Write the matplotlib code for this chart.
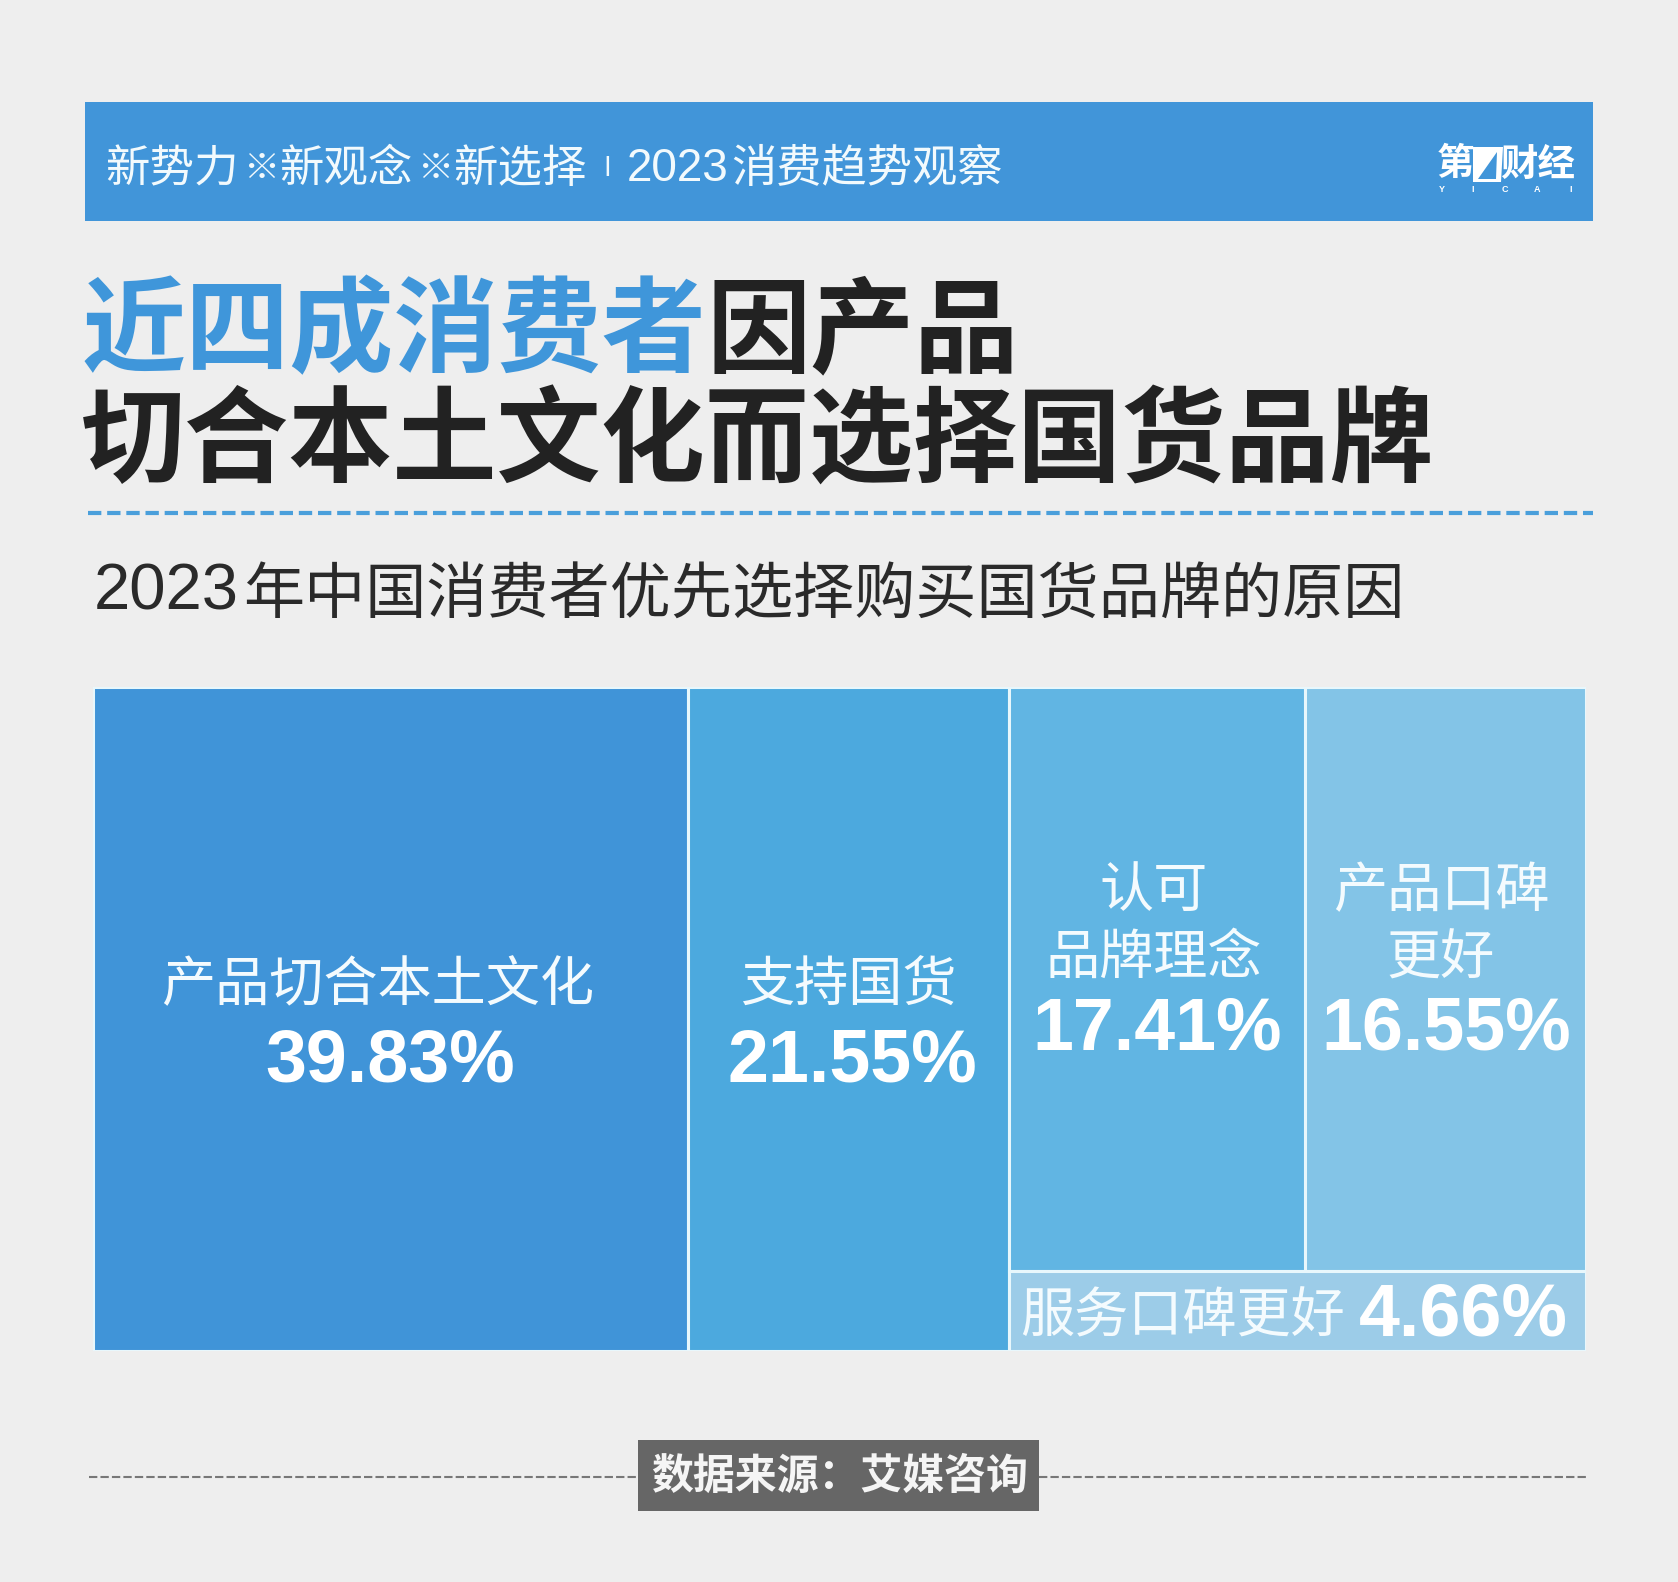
import matplotlib
matplotlib.use("Agg")
import matplotlib.pyplot as plt
from matplotlib.patches import Rectangle, Polygon

plt.rcParams["font.family"] = ["Noto Sans CJK SC", "DejaVu Sans"]

W, H = 1678, 1582
BG = "#EEEEEE"
BLUE = "#4195D9"
DARK = "#222222"
CJK = ["Noto Sans CJK SC", "DejaVu Sans"]
NUM = ["Liberation Sans", "DejaVu Sans"]

categories = ["产品切合本土文化", "支持国货", "认可\n品牌理念", "产品口碑\n更好", "服务口碑更好"]
shares = [39.83, 21.55, 17.41, 16.55, 4.66]
share_labels = ["39.83%", "21.55%", "17.41%", "16.55%", "4.66%"]
box_colors = ["#4094D8", "#4CA9DE", "#61B5E3", "#83C4E7", "#9CCCE8"]


def layout(vals):
    # two full columns, then two boxes side by side above a thin strip
    total = sum(vals)
    a, b, c, d, e = vals
    rest = c + d + e
    strip = e / rest * 100
    x2 = a + b
    x3 = x2 + c / (c + d) * rest
    return [
        (0, 0, a, 100),
        (a, 0, b, 100),
        (x2, strip, x3 - x2, 100 - strip),
        (x3, strip, total - x3, 100 - strip),
        (x2, 0, rest, strip),
    ]


fig = plt.figure(figsize=(W / 100, H / 100), dpi=100, facecolor=BG)

# treemap, in share units
left, right, top, bottom = 93, 1586, 687, 1351
ax = fig.add_axes([left / W, 1 - bottom / H, (right - left) / W, (bottom - top) / H])
ax.set_xlim(0, sum(shares))
ax.set_ylim(0, 100)
ax.axis("off")
for (x, y, w, h), col in zip(layout(shares), box_colors):
    ax.add_patch(Rectangle((x, y), w, h, facecolor=col, edgecolor="#E8F7FC", linewidth=2.2))

# everything else is placed in picture pixels
pg = fig.add_axes([0, 0, 1, 1], facecolor="none")
pg.set_xlim(0, W)
pg.set_ylim(H, 0)
pg.axis("off")

# banner
pg.add_patch(Rectangle((85, 102), 1508, 119, facecolor=BLUE, edgecolor="none"))
banner_bits = [
    (105, "新势力", 32, CJK), (243, "※", 26, CJK), (279, "新观念", 32, CJK), (417, "※", 26, CJK),
    (453, "新选择", 32, CJK), (603, "I", 19, CJK), (627, "2023", 33, NUM), (731, "消费趋势观察", 32.6, CJK),
]
for x, s, size, fam in banner_bits:
    pg.text(x, 169, s, color="#F2FAFD", fontsize=size, family=fam, ha="left", va="center")

# logo
pg.text(1455, 164, "第", color="white", fontsize=27, family=CJK, weight="bold", ha="center", va="center")
pg.add_patch(Polygon([(1473, 147), (1503, 147), (1501, 182), (1473, 182)], facecolor="white", edgecolor="none"))
pg.add_patch(Polygon([(1478, 179), (1497, 152), (1496, 179)], facecolor=BLUE, edgecolor="none"))
pg.text(1538, 164, "财经", color="white", fontsize=27, family=CJK, weight="bold", ha="center", va="center")
for x, s in zip([1442, 1473, 1505, 1537, 1571], "YICAI"):
    pg.text(x, 190, s, color="white", fontsize=6.5, family=NUM, weight="bold", ha="center", va="center")

# headline
pg.text(81, 333, "近四成消费者", color="#3F96DA", fontsize=75, family=CJK, weight="black", ha="left", va="center")
pg.text(706, 333, "因产品", color=DARK, fontsize=75, family=CJK, weight="black", ha="left", va="center")
pg.text(81, 444, "切合本土文化而选择国货品牌", color=DARK, fontsize=75, family=CJK, weight="black", ha="left", va="center")
pg.plot([88, 1593], [513, 513], color="#4A9FDB", lw=3, ls=(0, (3.2, 1.4)))

# subtitle
pg.text(94, 592, "2023", color="#2A2A2A", fontsize=47, family=NUM, ha="left", va="center")
pg.text(243, 595, "年中国消费者优先选择购买国货品牌的原因", color="#2A2A2A", fontsize=44, family=CJK, ha="left", va="center")

# box labels
label_pos = [(378, 986), (848, 986), (1154, 925), (1441, 925), (1183, 1317)]
value_pos = [(390, 1062), (852, 1062), (1157, 1030), (1446, 1030), (1463, 1316)]
for cat, lab, (lx, ly), (vx, vy) in zip(categories, share_labels, label_pos, value_pos):
    pg.text(lx, ly, cat, color="#F4FBFE", fontsize=39, family=CJK, ha="center", va="center", linespacing=1.29)
    pg.text(vx, vy, lab, color="white", fontsize=53, family=NUM, weight="bold", ha="center", va="center")

# source line
pg.plot([89, 638], [1477, 1477], color="#777777", lw=1.5, ls=(0, (4, 1.5)))
pg.plot([1039, 1586], [1477, 1477], color="#777777", lw=1.5, ls=(0, (4, 1.5)))
pg.add_patch(Rectangle((638, 1440), 401, 71, facecolor="#666666", edgecolor="none"))
pg.text(840, 1477, "数据来源：艾媒咨询", color="#F5F5F5", fontsize=30.2, family=CJK, weight="bold", ha="center", va="center")

fig.savefig("out.png", dpi=100, facecolor=BG)
